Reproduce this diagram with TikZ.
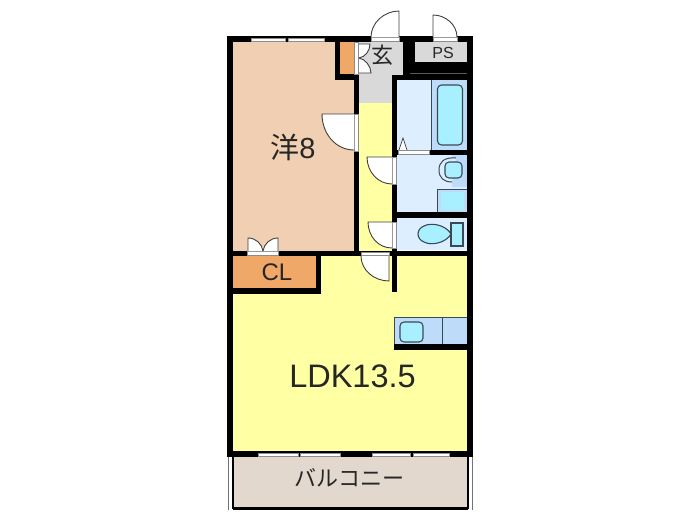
\documentclass[tikz,border=0pt]{standalone}
\usepackage{fontspec}
\setmainfont{Liberation Sans}
\newfontfamily\cjk{Noto Sans CJK JP}
\definecolor{roompeach}{HTML}{F0CFB2}
\definecolor{closetorange}{HTML}{F0A868}
\definecolor{floorgrey}{HTML}{D9D9D9}
\definecolor{floorgreen}{HTML}{FFFFA3}
\definecolor{wetpale}{HTML}{DCEEFF}
\definecolor{wetblue}{HTML}{BEDCFA}
\definecolor{fixcyan}{HTML}{A8F0FF}
\definecolor{balcony}{HTML}{E3D8CE}
\definecolor{fixline}{HTML}{3A4A55}
\tikzset{
  wall/.style={fill=black,draw=none},
  leaf/.style={fill=white,draw=black!75,line width=0.9pt},
  strip/.style={fill=white,draw=black!45,line width=0.5pt},
  fixture/.style={fill=fixcyan,draw=fixline,line width=1.1pt},
  label/.style={inner sep=0pt,text=black!85}
}
\begin{document}
\begin{tikzpicture}[x=1pt,y=-1pt]
\useasboundingbox (0,0) rectangle (700,525);

%floors
\fill[roompeach] (233,42) rectangle (354,251);
\fill[closetorange] (340,42) rectangle (354,74);
\fill[floorgrey] (359,42) -- (403,42) -- (403,75) -- (392,75) -- (392,103) -- (359,103) -- cycle;
\fill[floorgrey] (415,42) rectangle (467,62);
\fill[floorgreen] (359,103) rectangle (392,251);
\fill[closetorange] (233,256) rectangle (316,288);
\fill[floorgreen] (233,294) rectangle (467,452);
\fill[floorgreen] (321,256) rectangle (467,294);
\fill[balcony] (233,457) rectangle (467,507);

%bath
\fill[wetpale] (397,80) rectangle (431,150);
\fill[wetblue] (431,80) rectangle (467,150);
\draw[fixline,line width=0.8pt] (431.5,80) -- (431.5,150);
\draw[fixture,rounded corners=4pt] (437.5,85) rectangle (462.5,145);
\draw[leaf,line width=0.7pt] (399,150) -- (403,138) -- (407,150);

%wash room
\fill[wetpale] (397,155) rectangle (467,212);
\fill[wetblue] (452,155) rectangle (467,187);
\draw[fill=wetpale,draw=fixline,line width=1pt] (456,158) .. controls (444,157) and (439,162) .. (439,170) .. controls (439,178) and (444,182) .. (452,182);
\draw[fixture,rounded corners=4pt] (445,162) rectangle (462,178);
\draw[fill=wetblue,draw=fixline,line width=1pt] (437,189) rectangle (467,212);
\fill[fixcyan] (440.5,192) rectangle (464,209.5);

%toilet
\fill[wetpale] (397,218) rectangle (467,250);
\draw[fixture] (451,234) .. controls (446,225) and (431,222) .. (424,226) .. controls (416,229) and (416,239) .. (424,242) .. controls (431,246) and (446,243) .. (451,234) -- cycle;
\draw[fixture] (451,223) rectangle (463,246);

%kitchen
\fill[wetblue] (394,317) rectangle (467,344);
\draw[fixline,line width=0.8pt] (394,317) -- (467,317);
\draw[fixline,line width=0.8pt] (394,317) -- (394,344);
\draw[fixline,line width=0.8pt] (442,317) -- (442,344);
\draw[fixture,rounded corners=4pt] (400,322) rectangle (423,342);

%walls
\fill[wall] (227,36) rectangle (473,42);
\fill[wall] (227,36) rectangle (233,294);
\fill[wall] (467,36) rectangle (473,457);
\fill[wall] (227,294) rectangle (233,457);
\fill[wall] (227,451) rectangle (473,457);
\fill[wall] (227,251) rectangle (473,256);
\fill[wall] (227,288) rectangle (321,294);
\fill[wall] (316,251) rectangle (321,294);
\fill[wall] (354,42) rectangle (359,251);
\fill[wall] (335,42) rectangle (340,80);
\fill[wall] (335,74) rectangle (359,80);
\fill[wall] (403,42) rectangle (415,79);
\fill[wall] (403,62) rectangle (467,80);
\fill[wall] (392,75) rectangle (403,80);
\fill[wall] (392,75) rectangle (397,292);
\fill[wall] (397,150) rectangle (467,155);
\fill[wall] (397,212) rectangle (467,218);
\fill[wall] (394,344) rectangle (467,350);
\draw[black!65,line width=0.5pt] (410,73.5) -- (467,73.5);

%windows
\draw[strip] (251,38) rectangle (285,41);
\draw[strip] (288,38) rectangle (324,41);
\draw[strip] (258,453) rectangle (298,456);
\draw[strip] (300,453) rectangle (340,456);
\draw[strip] (372,453) rectangle (410,456);
\draw[strip] (413,453) rectangle (449,456);

%balcony
\fill[black] (233,507) rectangle (468,509.5);
\fill[black] (232,457) rectangle (234,509);
\fill[black] (466.5,457) rectangle (468.5,509);
\draw[black!55,line width=0.7pt] (228,457) -- (228,510);
\draw[black!55,line width=0.7pt] (472.5,457) -- (472.5,510);

%door, outside
\draw[strip] (371,37) rectangle (399,41);
\draw[leaf] (399,37) -- (399,11) .. controls (384,11) and (371,23) .. (371,37);
\draw[strip] (433,37) rectangle (457,41);
\draw[leaf] (433,37) -- (433,15) .. controls (446,15) and (457,25) .. (457,37);

%door, closet by entrance
\draw[strip] (354.5,42) rectangle (358.5,74);
\draw[leaf] (359,44) -- (370,44) .. controls (370,51) and (365,57) .. (359,58);
\draw[leaf] (359,73) -- (371,73) .. controls (371,66) and (365,59) .. (359,58);

%door, room
\draw[strip] (354,114) rectangle (358,151);
\draw[leaf] (354,114) -- (322,114) .. controls (322,134) and (336,150) .. (354,150);

%door, bath and toilet
\draw[strip] (398,150.5) rectangle (429,154.5);
\draw[strip] (392,157) rectangle (396.5,184);
\draw[leaf] (392,157) -- (367,157) .. controls (367,172) and (378,184) .. (392,184);
\draw[strip] (392,222) rectangle (396.5,248);
\draw[leaf] (392,222) -- (368,222) .. controls (368,236) and (378,248) .. (392,248);

%door, living
\draw[strip] (361,252) rectangle (389,255.5);
\draw[leaf] (389,256) -- (389,281) .. controls (374,281) and (361,270) .. (361,256);

%door, closet CL
\draw[strip] (247,251) rectangle (278,255);
\draw[leaf] (248,251) -- (248,238) .. controls (256,238) and (262,244) .. (263,251);
\draw[leaf] (278,251) -- (278,238) .. controls (270,238) and (264,244) .. (263,251);

%labels
\node[label,font={\cjk\fontsize{22}{22}\selectfont}] (hall) at (382,55) {玄};
\node[label,font=\fontsize{16}{16}\selectfont] (ps) at (443,53) {PS};
\node[label,font=\fontsize{29}{30}\selectfont] (room) at (293,147) {{\cjk 洋}8};
\node[label,font=\fontsize{24}{24}\selectfont] (cl) at (277,272) {CL};
\node[label,font=\fontsize{32.5}{33}\selectfont] (ldk) at (352.5,376) {LDK13.5};
\node[label,font={\cjk\fontsize{22}{22}\selectfont}] (veranda) at (349.5,478) {バルコニー};

\end{tikzpicture}
\end{document}
